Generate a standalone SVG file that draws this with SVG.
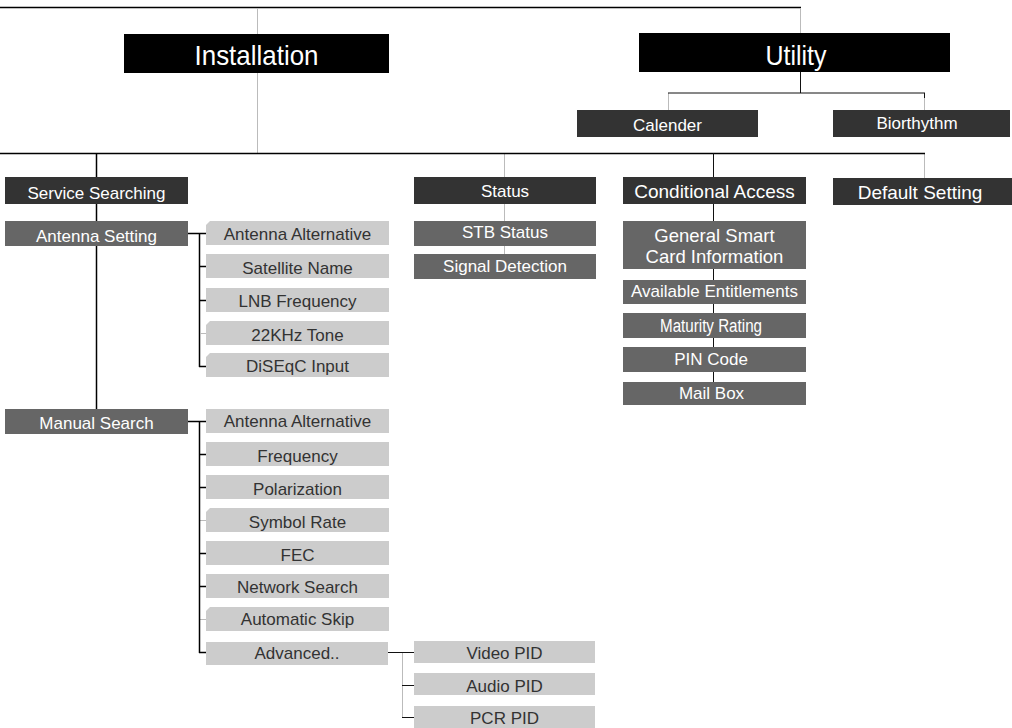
<svg xmlns="http://www.w3.org/2000/svg" width="1012" height="728" viewBox="0 0 1012 728" font-family="'Liberation Sans', Arimo, Helvetica, sans-serif">
<style>
text{text-anchor:middle}
.top{fill:#000}
.topt{fill:#fff;font-size:28px}
.d{fill:#333}
.m{fill:#666}
.l{fill:#ccc}
.wt{fill:#fff;font-size:17px}
.bt{fill:#333;font-size:17px}
.k{stroke:#000;stroke-width:1.5;fill:none}
.k1{stroke:#111;stroke-width:1;fill:none}
.g{stroke:#bbb;stroke-width:1;fill:none}
</style>
<g id="connectors">
<path class="k" d="M0 7.5H801"/>
<path class="g" d="M257.5 8V153M800.5 8V33M668.5 93V110M924.5 93V110M504.5 153V254M402.5 652V718M924.5 153V178"/>
<path class="k1" d="M800.5 72V93M668 93H925M924.5 93V98"/>
<path class="k" d="M0 153.5H925"/>
<path class="k" d="M96.5 153V409"/>
<path class="k1" d="M713.5 153V382"/>
<path class="k" d="M188 233.5H206M199.5 233V367M199 266.5H206M199 300.5H206M199 366.5H206"/>
<path class="g" d="M200 333.5H206M200 520.5H206M200 619.5H206"/>
<path class="k" d="M188 421.5H206M199.5 421V653M199 454.5H206M199 487.5H206M199 553.5H206M199 586.5H206M199 652.5H206"/>
<path class="k1" d="M388 652.5H414M402 685.5H414M402 717.5H414"/>
</g>
<g id="installation"><rect class="top" x="124" y="34" width="265" height="39"/><text class="topt" x="256.5" y="65" textLength="124" lengthAdjust="spacingAndGlyphs">Installation</text></g>
<g id="utility"><rect class="top" x="639" y="33" width="311" height="39"/><text class="topt" x="796" y="64.5" textLength="61" lengthAdjust="spacingAndGlyphs">Utility</text></g>
<g id="calender"><rect class="d" x="577" y="110" width="181" height="27"/><text class="wt" x="667.5" y="131">Calender</text></g>
<g id="biorthythm"><rect class="d" x="833" y="110" width="177" height="27"/><text class="wt" x="917" y="128.5">Biorthythm</text></g>
<g id="service-searching"><rect class="d" x="5" y="177" width="183" height="27"/><text class="wt" x="96.5" y="199">Service Searching</text></g>
<g id="status"><rect class="d" x="414" y="177" width="182" height="27"/><text class="wt" x="505" y="197">Status</text></g>
<g id="conditional-access"><rect class="d" x="623" y="177" width="183" height="27"/><text class="wt" x="714.5" y="198" style="font-size:19px">Conditional Access</text></g>
<g id="default-setting"><rect class="d" x="833" y="178" width="179" height="27"/><text class="wt" x="920" y="199" style="font-size:19px">Default Setting</text></g>
<g id="antenna-setting"><rect class="m" x="5" y="221" width="183" height="25"/><text class="wt" x="96.5" y="242">Antenna Setting</text></g>
<g id="manual-search"><rect class="m" x="5" y="409" width="183" height="25"/><text class="wt" x="96.5" y="429">Manual Search</text></g>
<g id="stb-status"><rect class="m" x="414" y="221" width="182" height="25"/><text class="wt" x="505" y="238">STB Status</text></g>
<g id="signal-detection"><rect class="m" x="414" y="254" width="182" height="25"/><text class="wt" x="505" y="272">Signal Detection</text></g>
<g id="general-smart-card"><rect class="m" x="623" y="221" width="183" height="48"/><text class="wt" x="714.5" y="242" style="font-size:18.5px">General Smart</text><text class="wt" x="714.5" y="263" style="font-size:18.5px">Card Information</text></g>
<g id="available-entitlements"><rect class="m" x="623" y="280" width="183" height="24"/><text class="wt" x="714.5" y="297">Available Entitlements</text></g>
<g id="maturity-rating"><rect class="m" x="623" y="313" width="183" height="25"/><text class="wt" x="711" y="332" style="font-size:18px" textLength="102" lengthAdjust="spacingAndGlyphs">Maturity Rating</text></g>
<g id="pin-code"><rect class="m" x="623" y="347" width="183" height="25"/><text class="wt" x="711" y="365">PIN Code</text></g>
<g id="mail-box"><rect class="m" x="623" y="382" width="183" height="23"/><text class="wt" x="711.5" y="398.5">Mail Box</text></g>
<g id="as-antenna-alternative"><path class="l" d="M206 225L210 221H389V245H206Z"/><text class="bt" x="297.5" y="240">Antenna Alternative</text></g>
<g id="satellite-name"><rect class="l" x="206" y="254" width="183" height="24"/><text class="bt" x="297.5" y="273.5">Satellite Name</text></g>
<g id="lnb-frequency"><rect class="l" x="206" y="288" width="183" height="24"/><text class="bt" x="297.5" y="307">LNB Frequency</text></g>
<g id="tone-22khz"><path class="l" d="M206 325L210 321H389V345H206Z"/><text class="bt" x="297.5" y="340.5">22KHz Tone</text></g>
<g id="diseqc-input"><path class="l" d="M206 357L210 353H389V377H206Z"/><text class="bt" x="297.5" y="371.5">DiSEqC Input</text></g>
<g id="ms-antenna-alternative"><rect class="l" x="206" y="409" width="183" height="24"/><text class="bt" x="297.5" y="427">Antenna Alternative</text></g>
<g id="frequency"><rect class="l" x="206" y="442" width="183" height="24"/><text class="bt" x="297.5" y="461.5">Frequency</text></g>
<g id="polarization"><rect class="l" x="206" y="475" width="183" height="24"/><text class="bt" x="297.5" y="494.5">Polarization</text></g>
<g id="symbol-rate"><path class="l" d="M206 512L210 508H389V532H206Z"/><text class="bt" x="297.5" y="528">Symbol Rate</text></g>
<g id="fec"><rect class="l" x="206" y="541" width="183" height="24"/><text class="bt" x="297.5" y="561">FEC</text></g>
<g id="network-search"><rect class="l" x="206" y="574" width="183" height="24"/><text class="bt" x="297.5" y="592.5">Network Search</text></g>
<g id="automatic-skip"><path class="l" d="M206 611L210 607H389V631H206Z"/><text class="bt" x="297.5" y="625">Automatic Skip</text></g>
<g id="advanced"><rect class="l" x="206" y="642" width="182" height="23"/><text class="bt" x="297" y="658.5">Advanced..</text></g>
<g id="video-pid"><rect class="l" x="414" y="641" width="181" height="22"/><text class="bt" x="504.5" y="658.5">Video PID</text></g>
<g id="audio-pid"><rect class="l" x="414" y="673" width="181" height="22"/><text class="bt" x="504.5" y="691.5">Audio PID</text></g>
<g id="pcr-pid"><rect class="l" x="414" y="706" width="181" height="22"/><text class="bt" x="504.5" y="723.5">PCR PID</text></g>
</svg>
